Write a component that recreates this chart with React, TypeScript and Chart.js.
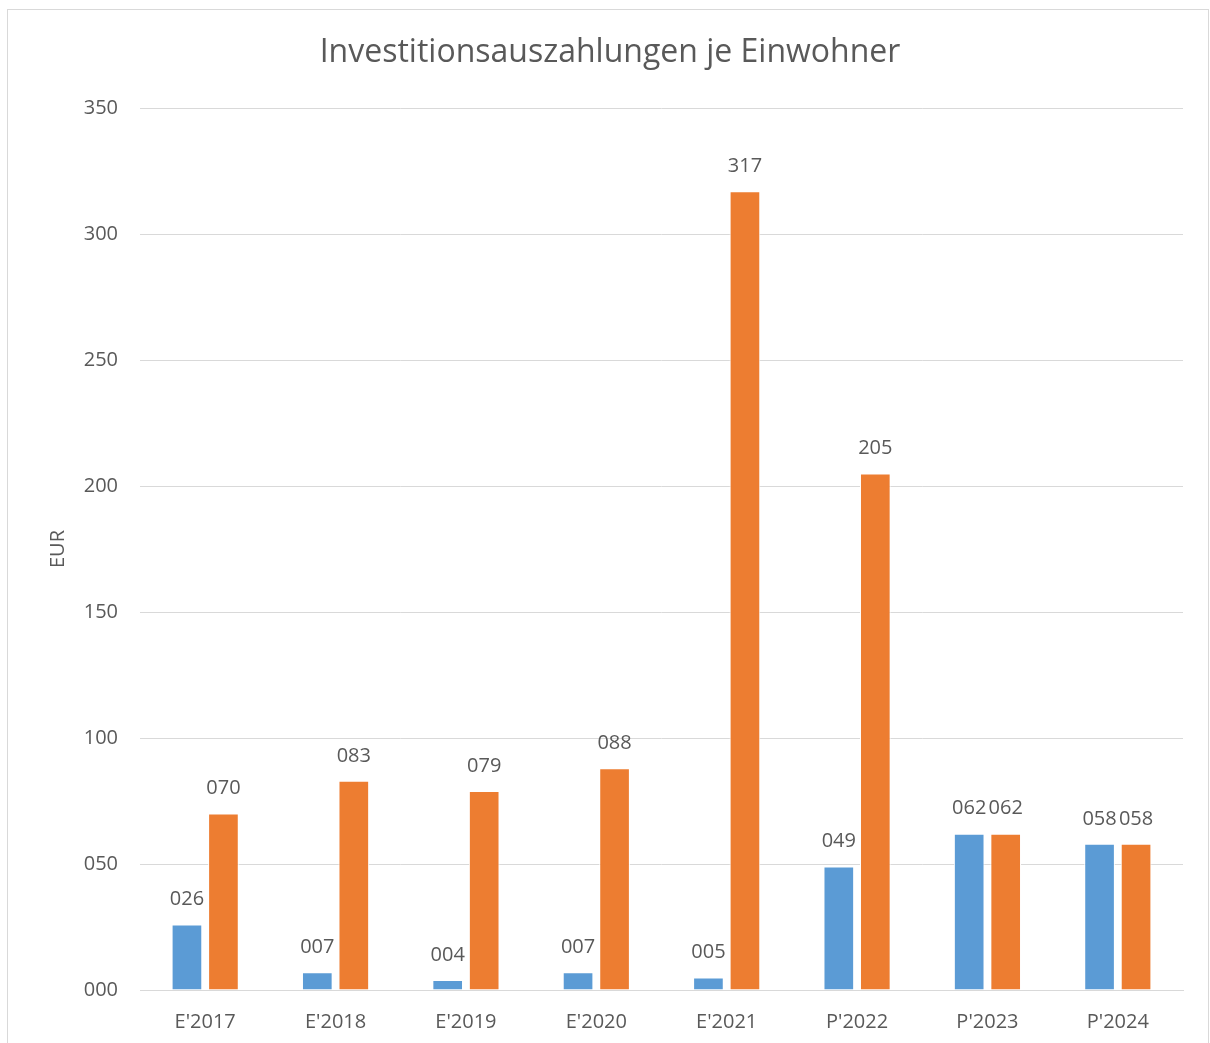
import React, { useEffect, useRef } from "react";
import { Chart, registerables } from "chart.js";

Chart.register(...registerables);

const categories = ["E'2017", "E'2018", "E'2019", "E'2020", "E'2021", "P'2022", "P'2023", "P'2024"];
const seriesBlue = [26, 7, 4, 7, 5, 49, 62, 58];
const seriesOrange = [70, 83, 79, 88, 317, 205, 62, 58];
const yTicks = [0, 50, 100, 150, 200, 250, 300, 350];
const titleText = "Investitionsauszahlungen je Einwohner";
const yAxisTitle = "EUR";

const FONT = "'Open Sans', sans-serif";
const TEXT = "#595959";

const pad3 = (v: number) => String(Math.round(v)).padStart(3, "0");

const framePlugin = {
  id: "frame",
  beforeDraw(chart: any) {
    const ctx = chart.ctx;
    ctx.save();
    ctx.fillStyle = "#ffffff";
    ctx.fillRect(0, 0, chart.width, chart.height);
    ctx.strokeStyle = "#D9D9D9";
    ctx.lineWidth = 1;
    ctx.strokeRect(7.5, 9.5, 1201, 1040);
    ctx.fillStyle = TEXT;
    ctx.font = `32px ${FONT}`;
    ctx.textAlign = "center";
    ctx.textBaseline = "middle";
    ctx.fillText(titleText, 610, 53);
    ctx.translate(58, 549);
    ctx.rotate(-Math.PI / 2);
    ctx.font = `20px ${FONT}`;
    ctx.fillText(yAxisTitle, 0, 0);
    ctx.restore();
  },
};

const labelPlugin = {
  id: "barLabels",
  afterDatasetsDraw(chart: any) {
    const ctx = chart.ctx;
    ctx.save();
    ctx.fillStyle = TEXT;
    ctx.font = `20px ${FONT}`;
    ctx.textAlign = "center";
    ctx.textBaseline = "middle";
    chart.data.datasets.forEach((ds: any, i: number) => {
      const meta = chart.getDatasetMeta(i);
      meta.data.forEach((bar: any, j: number) => {
        ctx.fillText(pad3(ds.data[j]), bar.x, bar.y - 25);
      });
    });
    ctx.restore();
  },
};

export default function App() {
  const ref = useRef<HTMLCanvasElement>(null);
  useEffect(() => {
    document.body.style.margin = "0";
    const chart = new Chart(ref.current!, {
      type: "bar",
      data: {
        labels: categories,
        datasets: [
          {
            data: seriesBlue,
            backgroundColor: "#5B9BD5",
            borderColor: "#ffffff",
            borderWidth: 1,
            categoryPercentage: 0.56,
            barPercentage: 0.84,
          },
          {
            data: seriesOrange,
            backgroundColor: "#ED7D31",
            borderColor: "#ffffff",
            borderWidth: 1,
            categoryPercentage: 0.56,
            barPercentage: 0.84,
          },
        ],
      },
      options: {
        responsive: false,
        animation: false,
        layout: { padding: { top: 108, right: 27, bottom: 0, left: 0 } },
        plugins: {
          legend: { display: false },
          title: { display: false },
          tooltip: { enabled: false },
        },
        scales: {
          x: {
            grid: { display: false, drawTicks: false },
            border: { color: "#D9D9D9", width: 1 },
            ticks: { color: TEXT, font: { family: FONT, size: 20 }, padding: 20 },
            afterFit: (s: any) => {
              s.height = 53;
            },
          },
          y: {
            min: 0,
            max: 350,
            afterBuildTicks: (s: any) => {
              s.ticks = yTicks.map((v) => ({ value: v }));
            },
            grid: { color: "#D9D9D9", drawTicks: false },
            border: { display: false },
            ticks: {
              color: TEXT,
              font: { family: FONT, size: 20 },
              padding: 22,
              callback: (v: any) => pad3(Number(v)),
            },
            afterFit: (s: any) => {
              s.width = 140;
            },
          },
        },
      },
      plugins: [framePlugin, labelPlugin],
    });
    return () => chart.destroy();
  }, []);
  return <canvas ref={ref} width={1210} height={1043} style={{ display: "block" }} />;
}
